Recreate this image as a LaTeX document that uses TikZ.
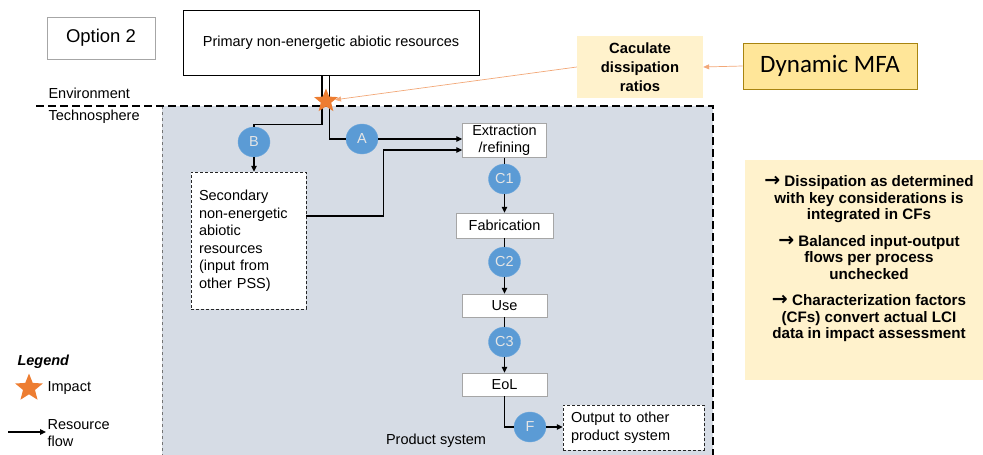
\documentclass[tikz,border=0pt]{standalone}
\usepackage{fontspec}
\setmainfont{Liberation Sans}
\newfontfamily\carlito{Carlito}
\newfontfamily\arrowfont{DejaVu Sans}
\usetikzlibrary{shapes.geometric,arrows.meta,positioning}
\definecolor{regionfill}{HTML}{D6DCE5}
\definecolor{circfill}{HTML}{5B9BD5}
\definecolor{circline}{HTML}{6FA8DC}
\definecolor{starorange}{HTML}{ED7D31}
\definecolor{linkorange}{HTML}{F2A878}
\definecolor{paleyellow}{HTML}{FFF2CC}
\definecolor{mfayellow}{HTML}{FFE699}
\definecolor{mfaline}{HTML}{A88410}
\definecolor{boxgray}{HTML}{A6A6A6}
\newcommand\toarrow{{\arrowfont\fontsize{19}{16}\selectfont →}}
\tikzset{
  procbox/.style={draw=boxgray, fill=white, inner sep=1pt, align=center},
  flowcircle/.style={ellipse, draw=circline, fill=circfill, text=white!90!black,
    minimum width=32pt, minimum height=30pt, inner sep=0pt},
  dashbox/.style={draw=black!85, densely dashed, fill=white, align=left, inner xsep=8pt},
  line/.style={line width=1.1pt},
  flow/.style={line, -{Triangle[length=6pt,width=5.5pt]}},
  impactstar/.style={star, star points=5, star point ratio=2.3, fill=starorange,
    draw=none, minimum size=25pt, inner sep=0pt},
  hint/.style={-{Triangle[length=6pt,width=5pt]}, linkorange, line width=0.7pt},
}
\begin{document}
\begin{tikzpicture}[x=1pt, y=-1pt, font=\fontsize{14.5}{17.5}\selectfont]
  \useasboundingbox (0,0) rectangle (983,455);

  % product system
  \fill [regionfill] (162,106) rectangle (713,455);
  \draw [boxgray!70!black, dashed, thin] (162,106) -- (162,455);
  \draw [line width=2.3pt, dash pattern=on 8pt off 4pt] (36,106) -- (713,106) -- (713,455);
  \node at (436,441) (prodlabel) {Product system};

  \node [draw=boxgray, minimum width=108, minimum height=42,
    font=\fontsize{18.5}{20}\selectfont] at (101,38) (opt) {Option 2};
  \node [draw=black, fill=white, minimum width=296, minimum height=65] at (331,42.5) (prim)
    {Primary non-energetic abiotic resources};
  \node [anchor=west] at (45,93) (envlabel) {Environment};
  \node [anchor=west] at (45,117) (techlabel) {Technosphere};

  \node [flowcircle] at (254,142) (B) {B};
  \node [flowcircle] at (362,139) (A) {A};

  % double line from the primary resources
  \draw [line] ([xshift=-9pt]prim.south) -- ++(0,49) -| (B.north);
  \draw [line] ([xshift=-1.5pt]prim.south) |- (A.west);
  \node [impactstar] at (326,101) (impact) {};

  \node [dashbox, text width=99pt, minimum height=137] at (248.5,240.5) (sec)
    {Secondary\\non-energetic\\abiotic\\resources\\(input from\\other PSS)};

  \node [procbox, minimum width=84, minimum height=34, font=\fontsize{14.5}{17}\selectfont]
    at (504.5,140.5) (ext) {Extraction\\/refining};
  \node [flowcircle] at (504.5,179) (C1) {C1};
  \node [procbox, minimum width=97, minimum height=25] at (504.5,225.5) (fab) {Fabrication};
  \node [flowcircle] at (504.5,262) (C2) {C2};
  \node [procbox, minimum width=85, minimum height=23] at (504.5,305.5) (use) {Use};
  \node [flowcircle] at (504.5,342) (C3) {C3};
  \node [procbox, minimum width=85, minimum height=23] at (504.5,384.5) (eol) {EoL};
  \node [flowcircle] at (530,427) (F) {F};
  \node [dashbox, text width=125pt, minimum height=45, font=\fontsize{14.5}{18}\selectfont]
    at (633.5,427.5) (out) {Output to other\\product system};

  \draw [flow] (A.east) -- (A.east -| ext.west);
  \draw [flow] (B.south) -- (B.south |- sec.north);
  \draw [flow] ([yshift=24.5pt]sec.east) -- ++(77,0) |- ([yshift=-9.5pt]ext.west);
  \foreach \from/\via/\to in {ext/C1/fab, fab/C2/use, use/C3/eol}{
    \draw [line] (\from.south) -- (\via.north);
    \draw [flow] (\via.south) -- (\to.north);
  }
  \draw [line] (eol.south) |- (F.west);
  \draw [flow] (F.east) -- (F.east -| out.west);

  % dissipation side
  \node [fill=paleyellow, minimum width=126, minimum height=62, align=center,
    font=\bfseries\fontsize{14.8}{19}\selectfont] at (640,67) (calc)
    {Caculate\\dissipation\\ratios};
  \node [fill=mfayellow, draw=mfaline, line width=1pt, minimum width=174, minimum height=46,
    font=\carlito\fontsize{25}{28}\selectfont] at (830,66) (mfa) {Dynamic MFA};
  \draw [hint] (mfa.west) -- (calc.east);
  \draw [hint] (calc.west) -- (impact);

  \node [fill=paleyellow, minimum width=238, minimum height=220] at (864,270) (notebg) {};
  \node [align=center, inner sep=0pt, font=\bfseries\fontsize{15.2}{16.5}\selectfont]
    at (869,259) (notes)
    {\toarrow\ Dissipation as determined\\with key considerations is\\integrated in CFs\\[10pt]
     \toarrow\ Balanced input-output\\flows per process\\unchecked\\[10pt]
     \toarrow\ Characterization factors\\(CFs) convert actual LCI\\data in impact assessment};

  % legend
  \node [anchor=west, font=\bfseries\itshape\fontsize{14.5}{17.5}\selectfont] at (14,362) (legtitle) {Legend};
  \node [impactstar, minimum size=29pt] at (29,388) (legstar) {};
  \node [anchor=west] at (44,388) (legimpact) {Impact};
  \coordinate (legtail) at (8,432);
  \coordinate (leghead) at (46,432);
  \draw [flow] (legtail) -- (leghead);
  \node [anchor=west, align=left] at (44,433) (legflow) {Resource\\flow};
\end{tikzpicture}
\end{document}
